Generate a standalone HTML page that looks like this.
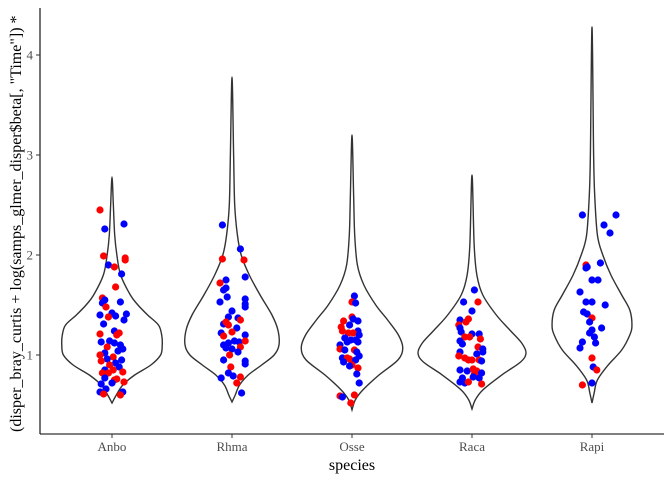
<!DOCTYPE html>
<html><head><meta charset="utf-8"><style>
body{margin:0;background:#fff}
svg text{font-family:"Liberation Serif",serif}
</style></head><body>
<svg id="c" width="672" height="480">
<g id="plot"></g>
<line x1="40" y1="8" x2="40" y2="434" stroke="#000" stroke-width="1.1"/>
<line x1="40" y1="434" x2="664" y2="434" stroke="#000" stroke-width="1.1"/>
<g id="axes"></g>
<text x="352" y="470" text-anchor="middle" font-size="16">species</text>
<text transform="translate(21,432) rotate(-90)" font-size="16">(disper_bray_curtis + log(samps_glmer_disper$beta[, "Time"]) *</text>
</svg>
<script>
const categories=["Anbo","Rhma","Osse","Raca","Rapi"];
const yTicks=[1,2,3,4];
// violin profiles: [value, half-width in fraction of max]
const violinAnbo=[[0.52,0],[0.6,0.08],[0.7,0.2],[0.8,0.42],[0.9,0.72],[1.0,0.9],[1.1,0.93],[1.2,0.92],[1.3,0.86],[1.4,0.66],[1.5,0.48],[1.6,0.34],[1.8,0.16],[2.0,0.09],[2.2,0.05],[2.5,0.025],[2.78,0]];
const violinRhma=[[0.53,0],[0.6,0.06],[0.7,0.14],[0.8,0.3],[0.9,0.55],[1.0,0.78],[1.1,0.87],[1.25,0.85],[1.4,0.74],[1.6,0.52],[1.8,0.32],[2.0,0.17],[2.2,0.1],[2.5,0.05],[3.0,0.03],[3.78,0]];
const violinOsse=[[0.45,0],[0.55,0.06],[0.65,0.2],[0.8,0.5],[0.95,0.85],[1.07,0.94],[1.2,0.86],[1.35,0.66],[1.5,0.44],[1.7,0.22],[1.9,0.1],[2.2,0.05],[2.6,0.03],[3.2,0]];
const violinRaca=[[0.46,0],[0.55,0.06],[0.65,0.2],[0.8,0.55],[0.93,0.9],[1.02,1.0],[1.12,0.92],[1.25,0.7],[1.4,0.45],[1.6,0.2],[1.8,0.09],[2.1,0.04],[2.8,0]];
const violinRapi=[[0.52,0],[0.62,0.04],[0.75,0.1],[0.9,0.3],[1.05,0.55],[1.2,0.7],[1.3,0.74],[1.45,0.7],[1.6,0.55],[1.8,0.35],[2.0,0.2],[2.2,0.1],[2.6,0.05],[3.0,0.03],[4.28,0]];
// points: [category index, jitter (category units), value, colour 0=red 1=blue]
const pts=[
[0,-0.1,2.45,0],[0,0.1,2.31,1],[0,-0.06,2.26,1],[0,-0.07,1.99,0],[0,0.11,1.97,0],[0,0.11,1.95,0],[0,-0.03,1.9,1],[0,0.02,1.88,0],[0,0.08,1.81,1],[0,0.03,1.68,0],[0,-0.08,1.57,0],[0,-0.06,1.55,1],[0,0.07,1.53,1],[0,-0.08,1.52,1],[0,-0.05,1.48,0],[0,0.0,1.42,1],[0,0.12,1.41,1],[0,-0.1,1.4,1],[0,-0.03,1.38,0],[0,0.03,1.39,1],[0,0.1,1.35,1],[0,-0.07,1.31,1],[0,0.02,1.24,1],[0,0.06,1.22,0],[0,-0.1,1.21,0],[0,0.04,1.2,0],[0,-0.02,1.14,1],[0,-0.09,1.13,1],[0,0.02,1.12,1],[0,0.07,1.1,1],[0,-0.04,1.08,0],[0,0.09,1.06,1],[0,0.05,1.04,1],[0,-0.06,1.02,1],[0,-0.1,1.0,0],[0,0.01,0.98,0],[0,-0.04,0.96,1],[0,0.08,0.95,1],[0,-0.09,0.94,0],[0,0.03,0.92,1],[0,-0.02,0.9,0],[0,0.06,0.88,1],[0,-0.06,0.85,1],[0,0.01,0.85,0],[0,0.09,0.83,0],[0,-0.08,0.82,0],[0,-0.03,0.82,0],[0,-0.06,0.77,1],[0,0.04,0.76,0],[0,0.02,0.75,0],[0,0.1,0.73,0],[0,-0.09,0.71,1],[0,-0.05,0.66,1],[0,0.09,0.63,1],[0,-0.1,0.63,1],[0,-0.07,0.61,0],[0,0.07,0.6,0],[0,0.0,0.72,1],
[1,-0.08,2.3,1],[1,0.07,2.06,1],[1,-0.08,1.96,0],[1,0.1,1.95,0],[1,0.11,1.78,1],[1,-0.05,1.75,1],[1,-0.1,1.72,0],[1,-0.05,1.67,1],[1,-0.07,1.65,1],[1,-0.04,1.58,1],[1,-0.1,1.53,1],[1,0.11,1.56,1],[1,0.11,1.51,1],[1,0.11,1.48,1],[1,0.0,1.44,1],[1,-0.03,1.38,1],[1,0.05,1.37,1],[1,0.07,1.35,0],[1,-0.07,1.31,1],[1,-0.05,1.33,0],[1,-0.03,1.3,0],[1,0.04,1.27,1],[1,0.0,1.23,0],[1,-0.09,1.22,1],[1,0.11,1.2,1],[1,-0.07,1.19,0],[1,-0.07,1.1,1],[1,-0.03,1.12,1],[1,0.02,1.14,1],[1,0.06,1.13,1],[1,0.11,1.14,0],[1,0.07,1.08,0],[1,-0.05,1.07,1],[1,0.0,1.06,1],[1,0.05,1.03,1],[1,-0.02,1.0,0],[1,-0.07,0.95,1],[1,0.11,0.94,1],[1,0.11,0.91,1],[1,-0.01,0.88,0],[1,-0.03,0.82,1],[1,0.01,0.79,1],[1,0.07,0.78,0],[1,0.04,0.72,0],[1,-0.09,0.77,1],[1,0.08,0.62,1],
[2,0.02,1.59,1],[2,0.0,1.53,0],[2,0.03,1.52,1],[2,0.0,1.38,0],[2,0.01,1.36,1],[2,-0.07,1.34,0],[2,0.05,1.34,1],[2,-0.09,1.28,0],[2,-0.02,1.3,1],[2,0.05,1.24,1],[2,-0.08,1.24,0],[2,-0.03,1.22,0],[2,0.01,1.22,0],[2,0.06,1.2,1],[2,-0.06,1.17,1],[2,-0.01,1.15,1],[2,0.03,1.15,1],[2,0.05,1.13,1],[2,-0.04,1.13,1],[2,-0.1,1.1,1],[2,-0.1,1.06,0],[2,-0.06,1.05,1],[2,0.02,1.05,0],[2,0.04,1.03,1],[2,0.06,0.99,1],[2,-0.08,0.97,1],[2,-0.04,0.97,0],[2,-0.02,0.96,0],[2,0.03,0.95,1],[2,-0.07,0.93,1],[2,0.0,0.9,0],[2,-0.02,0.89,1],[2,0.05,0.87,0],[2,0.04,0.81,1],[2,0.06,0.72,1],[2,-0.1,0.59,0],[2,-0.08,0.58,1],[2,0.02,0.6,0],[2,-0.01,0.52,0],
[3,0.02,1.65,1],[3,-0.07,1.53,1],[3,0.05,1.53,0],[3,0.0,1.44,1],[3,-0.1,1.35,1],[3,-0.03,1.36,0],[3,-0.05,1.33,0],[3,-0.11,1.3,0],[3,-0.1,1.27,1],[3,-0.09,1.23,1],[3,0.0,1.21,1],[3,0.06,1.21,1],[3,-0.06,1.18,0],[3,-0.02,1.18,0],[3,0.07,1.16,0],[3,-0.1,1.14,1],[3,-0.08,1.11,1],[3,0.05,1.08,0],[3,0.09,1.06,1],[3,0.09,1.03,1],[3,-0.1,1.03,1],[3,0.04,1.01,1],[3,-0.11,0.99,0],[3,-0.06,0.97,0],[3,-0.03,0.95,0],[3,0.0,0.95,0],[3,0.06,0.95,0],[3,0.08,0.94,1],[3,-0.1,0.85,1],[3,-0.04,0.84,1],[3,0.01,0.86,0],[3,0.04,0.84,0],[3,0.08,0.82,1],[3,0.02,0.81,0],[3,-0.08,0.77,1],[3,0.01,0.78,1],[3,0.06,0.77,1],[3,-0.1,0.73,1],[3,-0.06,0.72,1],[3,0.08,0.71,0],[3,-0.03,0.73,0],
[4,-0.08,2.4,1],[4,0.2,2.4,1],[4,0.1,2.3,1],[4,0.15,2.22,1],[4,-0.05,1.9,0],[4,-0.05,1.87,1],[4,0.07,1.92,1],[4,-0.04,1.88,1],[4,0.0,1.75,1],[4,0.05,1.75,1],[4,-0.1,1.63,1],[4,-0.05,1.53,1],[4,0.0,1.53,1],[4,0.11,1.5,1],[4,-0.07,1.43,1],[4,-0.04,1.41,1],[4,0.0,1.37,0],[4,-0.02,1.33,1],[4,0.08,1.27,1],[4,0.0,1.25,1],[4,-0.02,1.22,1],[4,0.02,1.18,1],[4,0.03,1.12,1],[4,-0.08,1.13,1],[4,-0.1,1.07,1],[4,0.0,0.97,0],[4,0.01,0.88,1],[4,0.04,0.85,0],[4,-0.08,0.7,0],[4,0.0,0.72,1]
];
const violins=[violinAnbo,violinRhma,violinOsse,violinRaca,violinRapi];
const NS="http://www.w3.org/2000/svg";
const xS=i=>112+i*120;
const yS=v=>455-100*v;
const maxHalf=54;
const plot=document.getElementById('plot'),axes=document.getElementById('axes');
function mk(t,a,p){const e=document.createElementNS(NS,t);for(const k in a)e.setAttribute(k,a[k]);p.appendChild(e);return e;}
const clamp=(v,a,b)=>Math.min(Math.max(v,Math.min(a,b)),Math.max(a,b));
violins.forEach((prof,i)=>{
  const cx=xS(i);
  const right=prof.map(p=>[cx+p[1]*maxHalf,yS(p[0])]);
  const left=prof.slice(0,-1).reverse().map(p=>[cx-p[1]*maxHalf,yS(p[0])]);
  const all=right.concat(left);
  let d="M"+all[0].join(",");
  for(let k=0;k<all.length-1;k++){
    const p0=all[Math.max(k-1,0)],p1=all[k],p2=all[k+1],p3=all[Math.min(k+2,all.length-1)];
    const c1=[p1[0]+(p2[0]-p0[0])/6,clamp(p1[1]+(p2[1]-p0[1])/6,p1[1],p2[1])];
    const c2=[p2[0]-(p3[0]-p1[0])/6,clamp(p2[1]-(p3[1]-p1[1])/6,p1[1],p2[1])];
    d+=` C${c1.join(",")} ${c2.join(",")} ${p2.join(",")}`;
  }
  const el=mk('path',{d:d+"Z",fill:"none",stroke:"#333","stroke-width":1.4},plot);
  
  
});
pts.forEach(p=>{
  const el=mk('circle',{cx:xS(p[0])+p[1]*120,cy:yS(p[2]),r:3.6,fill:p[3]?"#0000ff":"#ff0000"},plot);
  
  
});
yTicks.forEach(t=>{
  const l=mk('line',{x1:36,x2:40,y1:yS(t),y2:yS(t),stroke:"#333"},axes);
  
  
  const tx=mk('text',{x:33,y:yS(t)+4.5,"text-anchor":"end","font-size":13,fill:"#4d4d4d"},axes);
  tx.textContent=t;
  
  
});
categories.forEach((c,i)=>{
  const l=mk('line',{x1:xS(i),x2:xS(i),y1:434,y2:438,stroke:"#333"},axes);
  
  
  const tx=mk('text',{x:xS(i),y:451,"text-anchor":"middle","font-size":13,fill:"#4d4d4d"},axes);
  tx.textContent=c;
  
  
});
</script>
</body></html>
